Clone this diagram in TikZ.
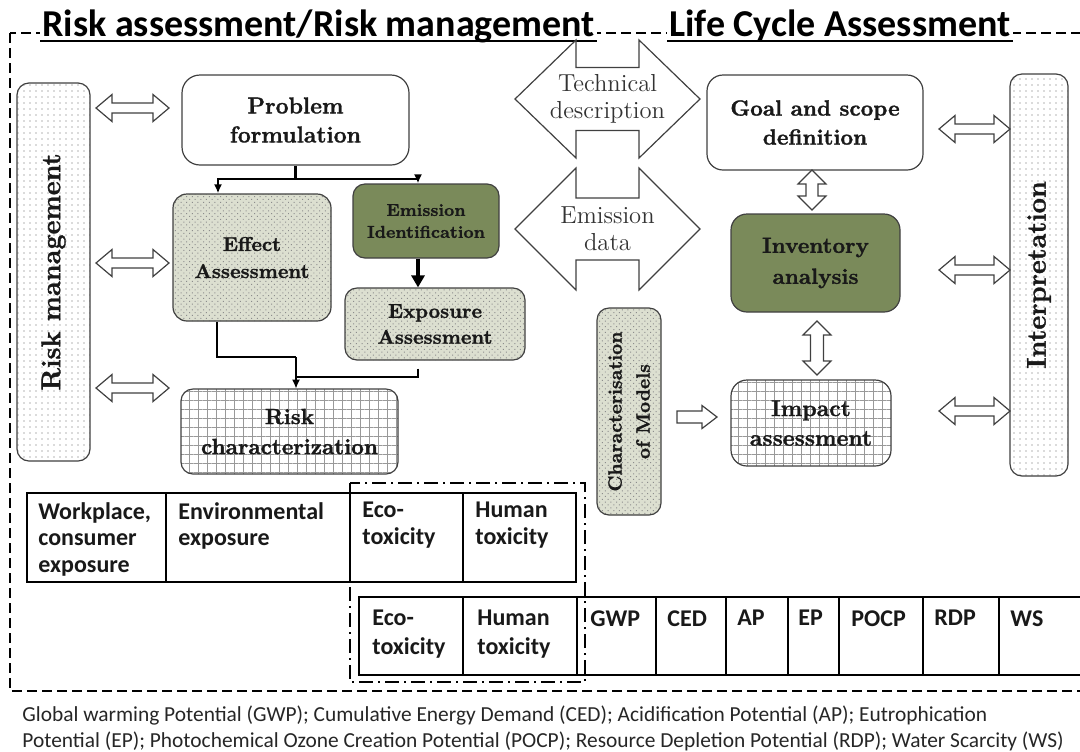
\documentclass[tikz,border=0pt]{standalone}
\usepackage{fontspec}
\newfontfamily\calibri{Carlito}
\newfontfamily\boxfont{Latin Modern Roman}[BoldFeatures={FakeBold=1.3}]
\usetikzlibrary{arrows.meta,patterns.meta}

\definecolor{mossgreen}{RGB}{122,138,90}
\definecolor{sage}{RGB}{220,223,208}

\tikzset{
	box/.style={draw=black!75, line width=0.6pt, rounded corners=6pt, align=center, text=black!90},
	plainbox/.style={box, fill=white},
	greenbox/.style={box, fill=mossgreen},
	stipple/.style={box, preaction={fill=sage}, pattern={Dots[distance=2pt,radius=0.35pt,angle=45]}, pattern color=black!45},
	dotbox/.style={box, preaction={fill=white}, pattern={Dots[distance=3pt,radius=0.35pt]}, pattern color=black!60},
	gridbox/.style={box, preaction={fill=white}, pattern={Hatch[angle=0,distance=4.5pt,line width=0.3pt]}, pattern color=black!40},
	hollow/.style={draw=black!75, line width=0.6pt, fill=white, line join=miter},
	% block arrows: half length, half shaft, half head, head length
	pics/dblarrow/.style n args={4}{code={
		\draw[hollow] (-#1,0) -- (-#1+#4,-#3) -- (-#1+#4,-#2) -- (#1-#4,-#2) -- (#1-#4,-#3) -- (#1,0)
			-- (#1-#4,#3) -- (#1-#4,#2) -- (-#1+#4,#2) -- (-#1+#4,#3) -- cycle;
	}},
	pics/onearrow/.style n args={4}{code={
		\draw[hollow] (-#1,-#2) -- (#1-#4,-#2) -- (#1-#4,-#3) -- (#1,0) -- (#1-#4,#3) -- (#1-#4,#2) -- (-#1,#2) -- cycle;
	}},
	link/.style={line width=1.2pt},
	tip/.style={-{Latex[length=4.5pt,width=4pt]}},
	frame/.style={line width=1pt, dash pattern=on 5pt off 2.5pt},
	dashdot/.style={line width=0.9pt, dash pattern=on 7pt off 2.5pt on 1pt off 2.5pt},
	title/.style={font=\calibri\bfseries\fontsize{19}{20}\selectfont, fill=white, inner sep=1pt, anchor=base west},
	cell/.style={font=\calibri\bfseries\fontsize{12}{13.3}\selectfont, anchor=north west, inner sep=0pt, align=left, text=black!90},
	shapetext/.style={align=center, text=black!80, font=\boxfont\fontsize{12.3}{13.5}\selectfont}
}

\begin{document}
\begin{tikzpicture}[x=0.5pt,y=-0.5pt]
	\useasboundingbox (0,0) rectangle (1080,751);

	% outer frame and the two headings
	\draw[frame] (10,33) rectangle (1095,691);
	\node[title] (ratitle) at (40,36) {Risk assessment/Risk management};
	\node[title] (lcatitle) at (667,36) {Life Cycle Assessment};
	\foreach \t in {ratitle,lcatitle}
		\draw[line width=1.3pt] ([yshift=-2.5pt]\t.base west) -- ([yshift=-2.5pt]\t.base east);

	% risk assessment side
	\node[dotbox, rotate=90, minimum width=189pt, minimum height=36.5pt, font=\boxfont\bfseries\fontsize{13.5}{15}\selectfont] (riskman) at (53.5,272) {Risk management};
	\node[plainbox, minimum width=113.5pt, minimum height=45pt, rounded corners=9pt, font=\boxfont\bfseries\fontsize{11.5}{14.5}\selectfont] (problem) at (295.5,120) {Problem\\formulation};
	\node[stipple, minimum width=79pt, minimum height=63.5pt, rounded corners=7pt, font=\boxfont\bfseries\fontsize{10}{13.5}\selectfont] (effect) at (252,257.5) {Effect\\Assessment};
	\node[greenbox, minimum width=73pt, minimum height=37pt, font=\boxfont\bfseries\fontsize{8.6}{11}\selectfont] (emission) at (426,221) {Emission\\Identification};
	\node[stipple, minimum width=90pt, minimum height=36pt, font=\boxfont\bfseries\fontsize{10}{13}\selectfont] (exposure) at (435,324) {Exposure\\Assessment};
	\node[gridbox, minimum width=108.5pt, minimum height=42.5pt, font=\boxfont\bfseries\fontsize{11}{15}\selectfont] (riskchar) at (289.5,431.5) {Risk\\characterization};

	\pic (rm1) at (132.5,108) {dblarrow={36.5}{5}{13.5}{16}};
	\pic (rm2) at (132.5,263) {dblarrow={36.5}{5}{13.5}{16}};
	\pic (rm3) at (132.5,388) {dblarrow={36.5}{5}{13.5}{16}};

	\coordinate (fork) at (295.5,179);
	\coordinate (merge) at (296,357);
	\coordinate (meet) at (296,377);
	\draw[link] (problem.south) -- (fork);
	\draw[link,tip] (fork) -| ([xshift=-17pt]effect.north);
	\draw[link,tip] (fork) -| ([xshift=-4pt]emission.north);
	\draw[line width=2pt, -{Triangle[length=6pt,width=6.5pt]}] ([xshift=-4pt]emission.south) -- ([xshift=-4pt]emission.south |- exposure.north);
	\draw[link] ([xshift=-17.5pt]effect.south) |- (merge);
	\draw[link,tip] (merge) -- (merge |- riskchar.north);
	\draw[link] ([xshift=-8.5pt,yshift=-4pt]exposure.south) |- (meet);

	% exchange between the two frameworks
	\pic (techshape) at (607.5,99) {dblarrow={92.5}{31.5}{59}{61}};
	\node[shapetext] (techdesc) at (607.5,99) {Technical\\description};
	\pic (emisshape) at (607.5,229) {dblarrow={92.5}{31}{61}{61}};
	\node[shapetext] (emisdata) at (607.5,229) {Emission\\data};

	% life cycle assessment side
	\node[plainbox, minimum width=108pt, minimum height=47.5pt, rounded corners=8pt, font=\boxfont\bfseries\fontsize{11}{14.5}\selectfont] (goal) at (815,122.5) {Goal and scope\\definition};
	\node[greenbox, minimum width=84.5pt, minimum height=49pt, rounded corners=8pt, font=\boxfont\bfseries\fontsize{11}{15.5}\selectfont] (inventory) at (815.5,263) {Inventory\\analysis};
	\node[gridbox, minimum width=80pt, minimum height=43pt, rounded corners=8pt, font=\boxfont\bfseries\fontsize{11.5}{14.8}\selectfont] (impact) at (811,423) {Impact\\assessment};
	\node[dotbox, rotate=90, minimum width=201pt, minimum height=29pt, font=\boxfont\bfseries\fontsize{13.5}{15}\selectfont] (interp) at (1039,275) {Interpretation};
	\node[stipple, rotate=90, minimum width=103.5pt, minimum height=32pt, font=\boxfont\bfseries\fontsize{9.6}{14}\selectfont] (charmod) at (629,411.5) {Characterisation\\of Models};

	\pic[rotate=90] (gi) at (812,190) {dblarrow={20}{6}{14}{14}};
	\pic[rotate=90] (ii) at (817,348) {dblarrow={27}{6.5}{14}{14}};
	\pic (toimpact) at (697,417) {onearrow={20}{6}{11.5}{15}};

	\pic (in1) at (974.5,129) {dblarrow={35.5}{5}{13.5}{16}};
	\pic (in2) at (974.5,270) {dblarrow={35.5}{5}{13.5}{16}};
	\pic (in3) at (974.5,411) {dblarrow={35.5}{5}{13.5}{16}};

	% impact categories
	\draw[line width=0.6pt] (27,493) rectangle (576,582);
	\foreach \x in {166,350,463}
		\draw[line width=0.6pt] (\x,493) -- (\x,582);
	\draw[line width=0.6pt] (1095,597) -- (359,597) -- (359,675) -- (1095,675);
	\foreach \x in {463,577,656,726,788,839,923,999}
		\draw[line width=0.6pt] (\x,597) -- (\x,675);

	\node[cell] (work) at (38,502) {Workplace,\\consumer\\exposure};
	\node[cell] (envir) at (178,502) {Environmental\\exposure};
	\node[cell] (ecotop) at (362,502) {Eco-\\toxicity};
	\node[cell] (humtop) at (475,502) {Human\\toxicity};
	\node[cell, font=\calibri\bfseries\fontsize{12}{14.5}\selectfont] (ecolow) at (372,610) {Eco-\\toxicity};
	\node[cell, font=\calibri\bfseries\fontsize{12}{14.5}\selectfont] (humlow) at (477,610) {Human\\toxicity};
	\foreach \x/\c in {590/GWP,667/CED,737/AP,798/EP,851/POCP,934/RDP,1010/WS}
		\node[cell] (\c) at (\x,610) {\c};

	\draw[dashdot] (350,483) rectangle (585,682);

	\node[anchor=north west, inner sep=0pt, align=left, font=\calibri\fontsize{10.7}{13.3}\selectfont, text=black!85] (legend) at (22,705) {Global warming Potential (GWP); Cumulative Energy Demand (CED); Acidification Potential (AP); Eutrophication\\Potential (EP); Photochemical Ozone Creation Potential (POCP); Resource Depletion Potential (RDP); Water Scarcity (WS)};
\end{tikzpicture}
\end{document}
